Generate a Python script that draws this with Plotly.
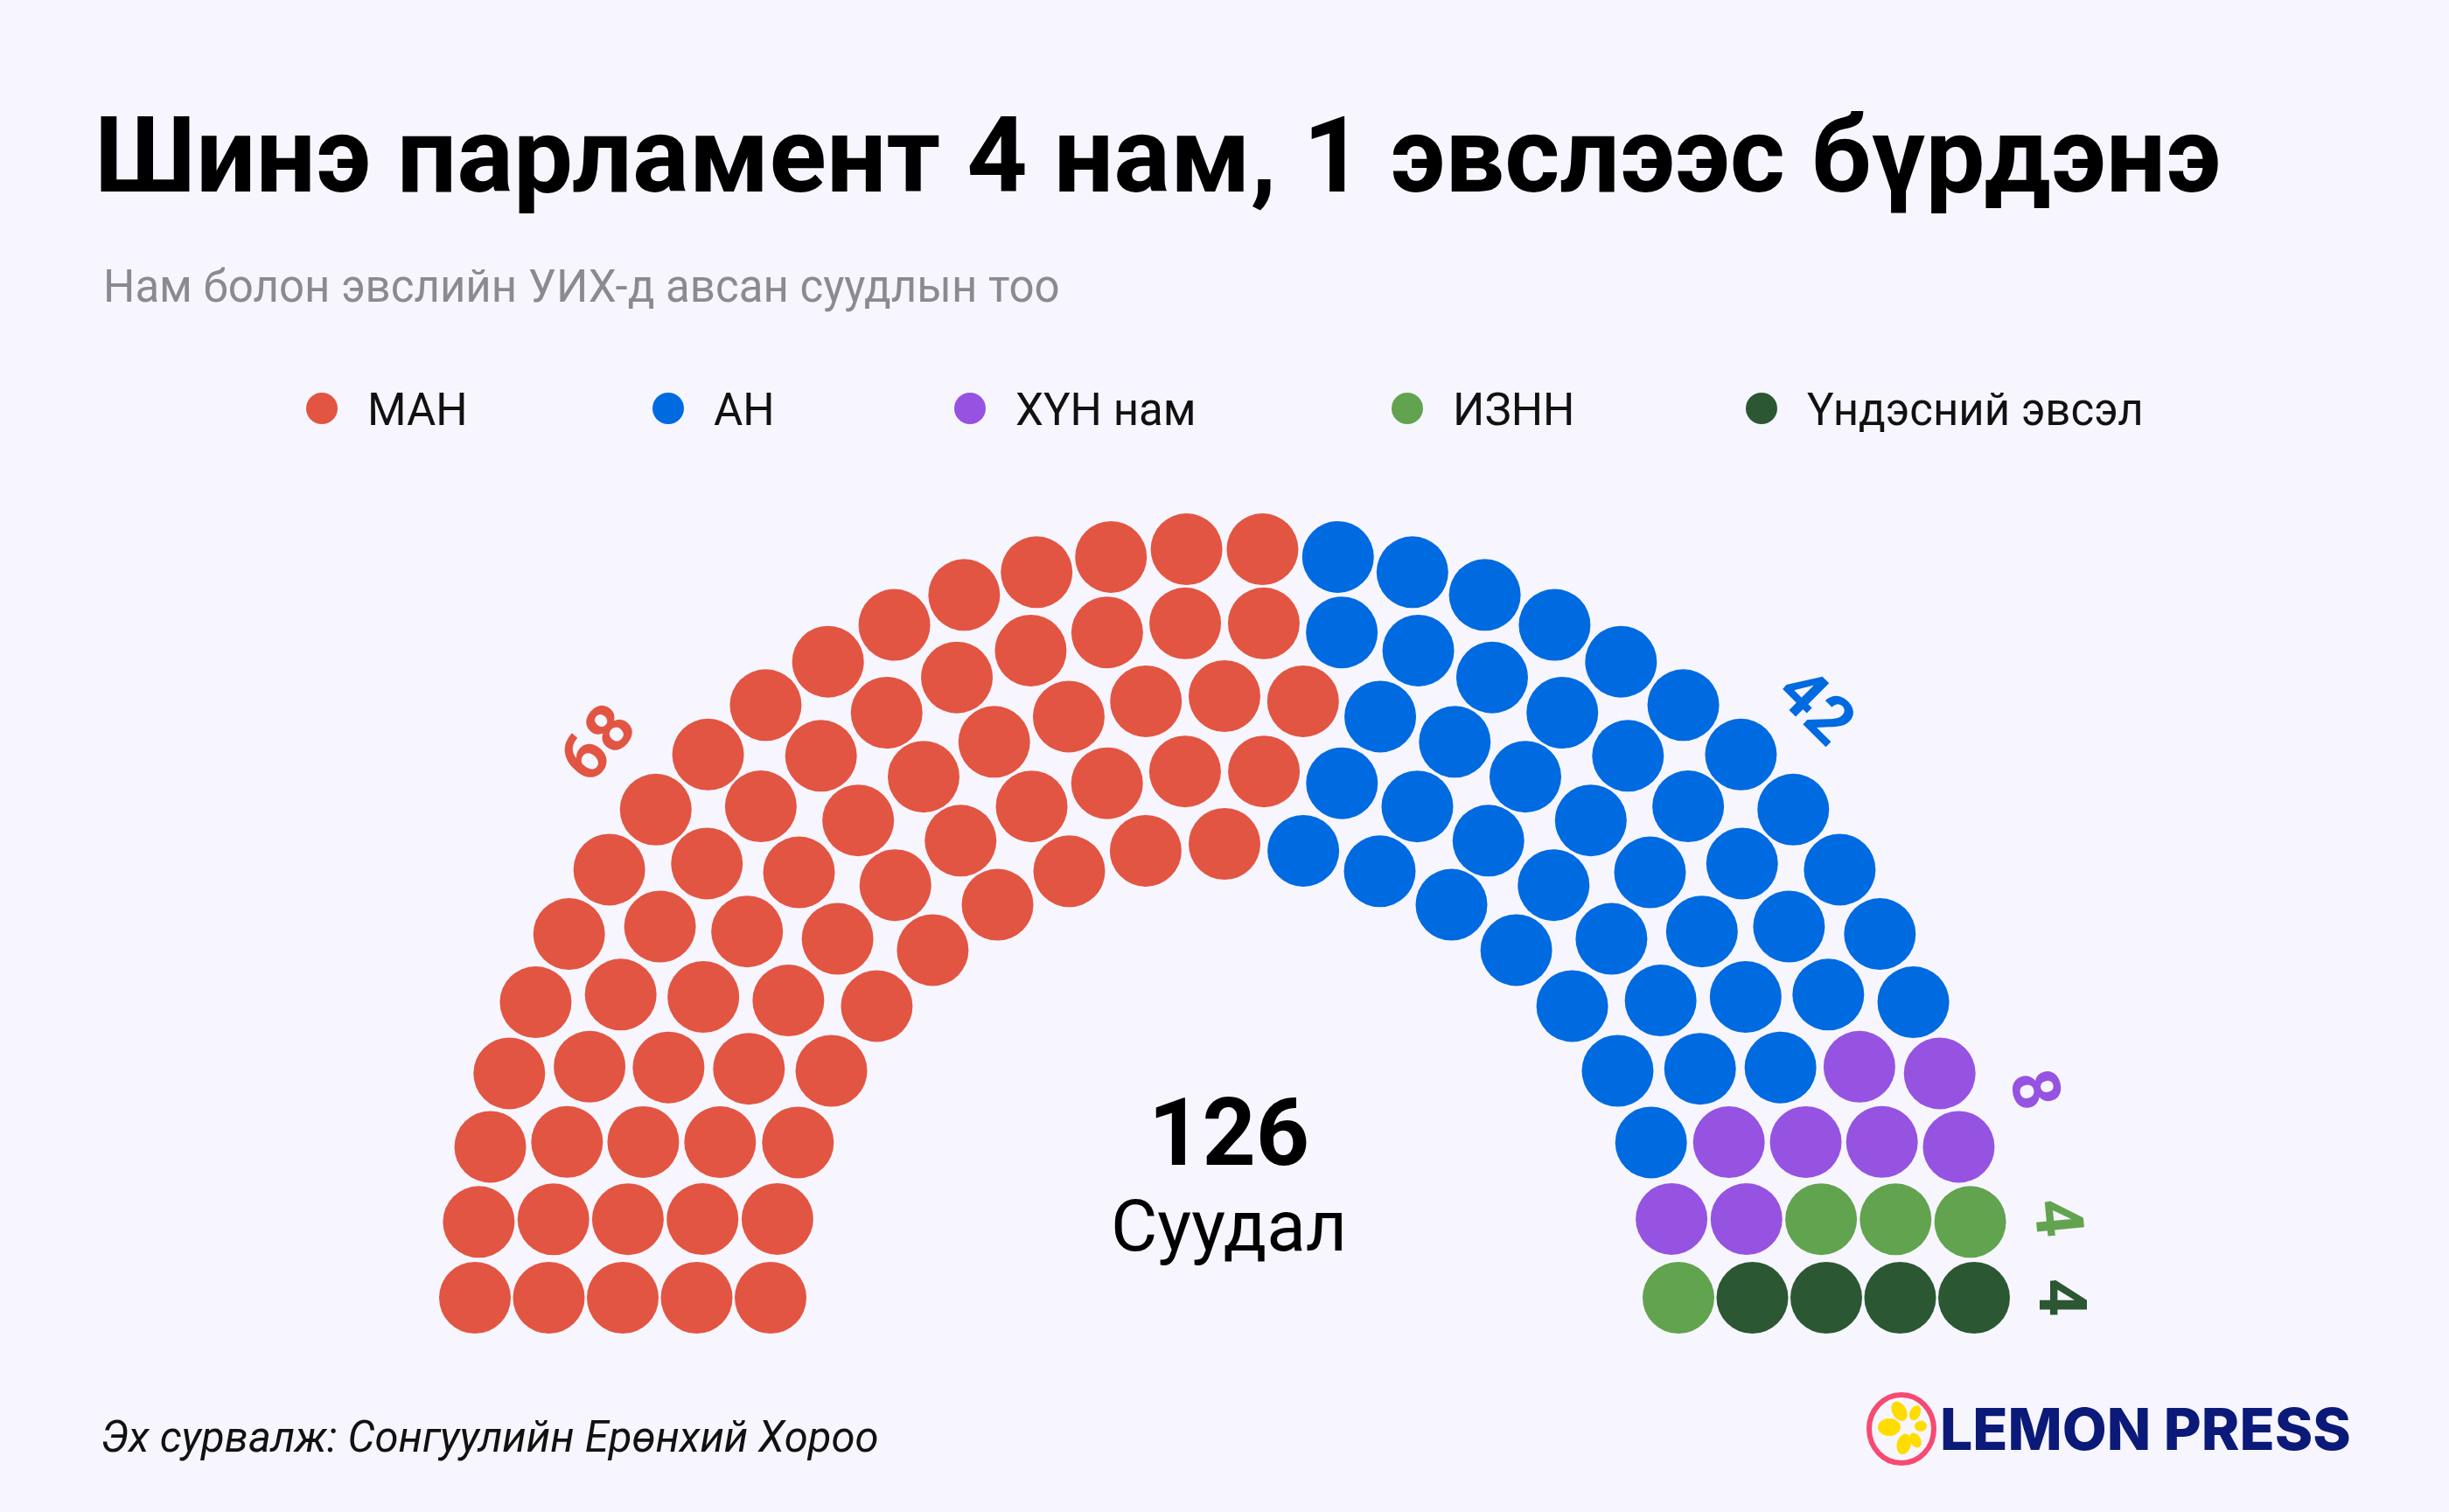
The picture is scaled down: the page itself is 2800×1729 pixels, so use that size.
import math
import plotly.graph_objects as go

# ---------------- data ----------------
PARTIES = ["МАН", "АН", "ХҮН нам", "ИЗНН", "Үндэсний эвсэл"]
SEATS = [68, 42, 8, 4, 4]
COLORS = ["#E25542", "#006AE1", "#9653E1", "#62A34F", "#2B5733"]
TOTAL_LABEL = "126"
TOTAL_CAPTION = "Суудал"
TITLE = "Шинэ парламент 4 нам, 1 эвслээс бүрдэнэ"
SUBTITLE = "Нам болон эвслийн УИХ-д авсан суудлын тоо"
SOURCE = "Эх сурвалж: Сонгуулийн Ерөнхий Хороо"
BRAND = "LEMON PRESS"

# ---------------- layout constants ----------------
W, H = 2800, 1729
BG = "#F7F6FE"
CX, CY = 1400, 1484          # hemicycle centre (pixels)
N_ROWS = 5
R_INNER = 519
ROW_GAP = 84.5
DOT = 82
LABEL_R = 958
LABEL_ANGLES = [138.5, 45.0, 14.4, 5.5, 0.0]   # degrees, placement of seat-count labels

# ---------------- seat geometry ----------------
total = sum(SEATS)
radii = [R_INNER + i * ROW_GAP for i in range(N_ROWS)]
rsum = sum(radii)
raw = [total * r / rsum for r in radii]
per_row = [int(math.floor(v)) for v in raw]
rem = total - sum(per_row)
order = sorted(range(N_ROWS), key=lambda i: raw[i] - per_row[i], reverse=True)
for i in order[:rem]:
    per_row[i] += 1

seats = []
for ri, (r, n) in enumerate(zip(radii, per_row)):
    for j in range(n):
        th = math.pi - j * math.pi / (n - 1)
        seats.append((round(th, 9), ri, r))
seats.sort(key=lambda s: (-s[0], s[1]))

assign = []
for p, n in enumerate(SEATS):
    assign += [p] * n

fig = go.Figure()
for p, name in enumerate(PARTIES):
    xs, ys = [], []
    for (th, ri, r), pa in zip(seats, assign):
        if pa != p:
            continue
        xs.append(CX + r * math.cos(th))
        ys.append(CY - r * math.sin(th))
    fig.add_trace(go.Scatter(
        x=xs, y=ys, mode="markers", name=name,
        marker=dict(size=DOT, color=COLORS[p], line=dict(width=0)),
        hoverinfo="name", showlegend=False))
    a = math.radians(LABEL_ANGLES[p])
    fig.add_annotation(
        x=CX + LABEL_R * math.cos(a), y=CY - LABEL_R * math.sin(a),
        text=str(SEATS[p]), showarrow=False, textangle=90 - LABEL_ANGLES[p],
        xanchor="center", yanchor="middle",
        font=dict(family="Roboto", size=76, color=COLORS[p], weight="bold"))

# ---------------- legend (custom, large dots) ----------------
LEG_X = [368, 764, 1109, 1609, 2014]
LEG_Y = 467
fig.add_trace(go.Scatter(
    x=LEG_X, y=[LEG_Y] * len(LEG_X), mode="markers",
    marker=dict(size=36, color=COLORS, line=dict(width=0)),
    hoverinfo="skip", showlegend=False))
for lx, name in zip(LEG_X, PARTIES):
    fig.add_annotation(x=lx + 50, y=LEG_Y + 1, text=name, showarrow=False,
                       xanchor="left", yanchor="middle",
                       font=dict(family="Roboto", size=51, color="#111111"))

# ---------------- texts ----------------
fig.add_annotation(x=106, y=178, text=TITLE, showarrow=False,
                   xanchor="left", yanchor="middle",
                   font=dict(family="Roboto", size=121, color="#000000", weight="bold"))
fig.add_annotation(x=116, y=327, text=SUBTITLE, showarrow=False,
                   xanchor="left", yanchor="middle",
                   font=dict(family="Roboto", size=51, color="#8B8A90"))
fig.add_annotation(x=CX + 5, y=1295, text=f"<b>{TOTAL_LABEL}</b>", showarrow=False,
                   xanchor="center", yanchor="middle",
                   font=dict(family="Roboto", size=107, color="#000000"))
fig.add_annotation(x=CX + 5, y=1402, text=TOTAL_CAPTION, showarrow=False,
                   xanchor="center", yanchor="middle",
                   font=dict(family="Roboto", size=82, color="#000000"))
fig.add_annotation(x=113, y=1643, text=f"<i>{SOURCE}</i>", showarrow=False,
                   xanchor="left", yanchor="middle",
                   font=dict(family="Roboto", size=49, color="#111111"))

# ---------------- logo ----------------
LX, LY = 2174, 1634
shapes = [dict(type="circle", xref="x", yref="y",
               x0=LX - 37, x1=LX + 37, y0=LY - 39, y1=LY + 39,
               line=dict(color="#F74A72", width=6), fillcolor="rgba(0,0,0,0)")]
HX, HY = LX + 8, LY - 2
petals = [  # angle(deg), distance, radial semi-axis, tangential semi-axis
    (180, 22, 13, 10), (-120, 21, 12, 8), (105, 20, 12, 8),
    (-65, 18, 9, 6), (-5, 14, 7, 6), (62, 17, 9, 6)]
for ang, d, ra, rb in petals:
    a = math.radians(ang)
    px, py = HX + d * math.cos(a), HY + d * math.sin(a)
    pts = []
    for k in range(24):
        t = 2 * math.pi * k / 24
        u, v = ra * math.cos(t), rb * math.sin(t)
        pts.append((px + u * math.cos(a) - v * math.sin(a),
                    py + u * math.sin(a) + v * math.cos(a)))
    path = "M " + " L ".join(f"{x:.1f},{y:.1f}" for x, y in pts) + " Z"
    shapes.append(dict(type="path", xref="x", yref="y", path=path,
                       fillcolor="#FFDC00", line=dict(width=0)))
fig.add_annotation(x=2216, y=LY, text=BRAND, showarrow=False,
                   xanchor="left", yanchor="middle",
                   font=dict(family="Inter", size=66, color="#0B1A78", weight=800))

fig.update_layout(
    width=W, height=H, margin=dict(l=0, r=0, t=0, b=0),
    paper_bgcolor=BG, plot_bgcolor=BG, showlegend=False, shapes=shapes,
    xaxis=dict(range=[0, W], visible=False, fixedrange=True),
    yaxis=dict(range=[H, 0], visible=False, fixedrange=True),
)
fig.write_html("out.html")
